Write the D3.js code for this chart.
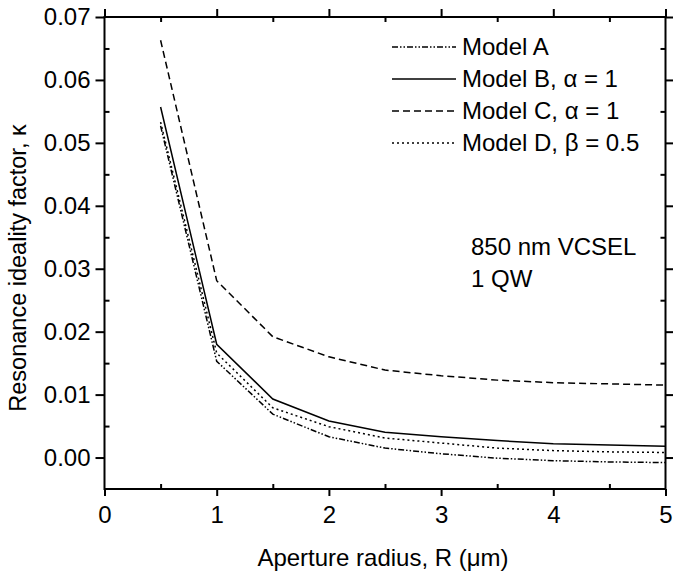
<!DOCTYPE html>
<html>
<head>
<meta charset="utf-8">
<script src="https://cdn.jsdelivr.net/npm/d3@7"></script>
<style>
  html, body { margin: 0; padding: 0; background: #fff; }
  svg { display: block; font-family: "Liberation Sans", Arial, Helvetica, sans-serif; }
</style>
</head>
<body>
<svg id="chart" width="673" height="572"></svg>
<script>
// aperture radius (µm)
const radius = [0.5, 1.0, 1.5, 2.0, 2.5, 3.0, 3.5, 4.0, 4.5, 5.0];
// resonance ideality factor per model
const modelA = [0.0527, 0.0153, 0.0069, 0.0033, 0.0015, 0.0006, -0.0001, -0.0005, -0.0007, -0.0008];
const modelB = [0.0557, 0.0180, 0.0093, 0.0058, 0.0040, 0.0033, 0.0027, 0.0022, 0.0020, 0.0018];
const modelC = [0.0663, 0.0281, 0.0192, 0.0160, 0.0139, 0.0130, 0.0123, 0.0119, 0.0117, 0.0115];
const modelD = [0.0533, 0.0166, 0.0079, 0.0049, 0.0031, 0.0023, 0.0015, 0.0011, 0.0009, 0.0008];
const seriesNames = ['Model A', 'Model B, \u03b1 = 1', 'Model C, \u03b1 = 1', 'Model D, \u03b2 = 0.5'];
const xTicks = [0, 1, 2, 3, 4, 5];
const yTicks = [0.00, 0.01, 0.02, 0.03, 0.04, 0.05, 0.06, 0.07];

(function () {
  const svg = d3.select('#chart');
  const L = 104.5, R = 665.5, T = 17, B = 489;
  const FONT = 24;

  const x = d3.scaleLinear().domain([0, 5]).range([L, R]);
  const y = d3.scaleLinear().domain([-0.005, 0.07]).range([B, T]);

  const xMinor = d3.range(0.5, 5, 1);
  const yMinor = d3.range(-0.005, 0.07, 0.01).map(v => +v.toFixed(3)).filter(v => v > -0.005);

  function styleAxis(g) {
    g.select('.domain').remove();
    g.selectAll('line').attr('stroke', '#000').attr('stroke-width', 2);
    g.selectAll('text').attr('fill', '#000').attr('font-size', FONT).attr('font-family', null);
  }

  // bottom: major out with labels, minor in
  svg.append('g').attr('transform', `translate(0,${B})`)
    .call(d3.axisBottom(x).tickValues(xTicks).tickFormat(d3.format('d')).tickSize(7).tickPadding(10))
    .call(styleAxis);
  svg.append('g').attr('transform', `translate(0,${B})`)
    .call(d3.axisBottom(x).tickValues(xMinor).tickFormat('').tickSize(-5))
    .call(styleAxis);
  // top: major out, minor in
  svg.append('g').attr('transform', `translate(0,${T})`)
    .call(d3.axisTop(x).tickValues(xTicks).tickFormat('').tickSize(8))
    .call(styleAxis);
  svg.append('g').attr('transform', `translate(0,${T})`)
    .call(d3.axisTop(x).tickValues(xMinor).tickFormat('').tickSize(-5))
    .call(styleAxis);
  // left
  svg.append('g').attr('transform', `translate(${L},0)`)
    .call(d3.axisLeft(y).tickValues(yTicks).tickFormat(d3.format('.2f')).tickSize(9).tickPadding(5))
    .call(styleAxis);
  svg.append('g').attr('transform', `translate(${L},0)`)
    .call(d3.axisLeft(y).tickValues(yMinor).tickFormat('').tickSize(-5))
    .call(styleAxis);
  // right
  svg.append('g').attr('transform', `translate(${R},0)`)
    .call(d3.axisRight(y).tickValues(yTicks).tickFormat('').tickSize(8))
    .call(styleAxis);
  svg.append('g').attr('transform', `translate(${R},0)`)
    .call(d3.axisRight(y).tickValues(yMinor).tickFormat('').tickSize(-5))
    .call(styleAxis);

  // frame
  svg.append('rect').attr('x', L).attr('y', T).attr('width', R - L).attr('height', B - T)
    .attr('fill', 'none').attr('stroke', '#000').attr('stroke-width', 2);

  const dashes = ['6,2,1.5,2,1.5,2', null, '7,4', '2,3'];
  const series = [modelA, modelB, modelC, modelD];
  const line = d3.line().x((d, i) => x(radius[i])).y(d => y(d));

  series.forEach((s, k) => {
    svg.append('path').datum(s)
      .attr('d', line)
      .attr('fill', 'none').attr('stroke', '#000').attr('stroke-width', 1.5)
      .attr('stroke-dasharray', dashes[k]);
  });

  // legend
  const legY = [47, 79, 111, 143];
  seriesNames.forEach((name, k) => {
    svg.append('line').attr('x1', 392).attr('x2', 456).attr('y1', legY[k]).attr('y2', legY[k])
      .attr('stroke', '#000').attr('stroke-width', 1.5).attr('stroke-dasharray', dashes[k]);
    svg.append('text').attr('x', 462).attr('y', legY[k]).attr('dy', '0.35em')
      .attr('font-size', FONT).text(name);
  });

  // annotation
  svg.append('text').attr('x', 471).attr('y', 247).attr('dy', '0.35em')
    .attr('font-size', FONT).text('850 nm VCSEL');
  svg.append('text').attr('x', 471).attr('y', 279).attr('dy', '0.35em')
    .attr('font-size', FONT).text('1 QW');

  // axis titles
  svg.append('text').attr('x', (L + R) / 2 - 2).attr('y', 558).attr('dy', '0.35em')
    .attr('text-anchor', 'middle').attr('font-size', FONT).text('Aperture radius, R (\u03bcm)');
  svg.append('text').attr('transform', 'translate(18,268) rotate(-90)')
    .attr('dy', '0.35em').attr('text-anchor', 'middle').attr('font-size', FONT - 0.5)
    .text('Resonance ideality factor, \u03ba');
})();
</script>
</body>
</html>
